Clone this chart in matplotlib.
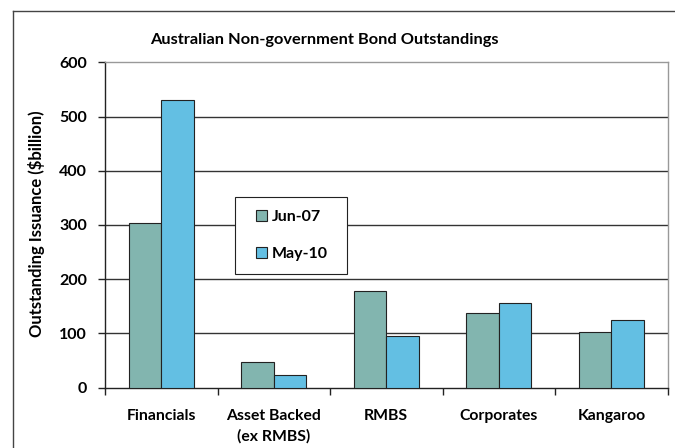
import numpy as np
import matplotlib
matplotlib.use("Agg")
import matplotlib.pyplot as plt
from matplotlib.lines import Line2D
from matplotlib.patches import Rectangle

categories = ["Financials", "Asset Backed\n(ex RMBS)", "RMBS", "Corporates", "Kangaroo"]
jun07 = [304, 47, 178, 137, 103]
may10 = [531, 23, 95, 157, 124]
series_names = ["Jun-07", "May-10"]
yticks = [0, 100, 200, 300, 400, 500, 600]

plt.rcParams["font.family"] = ["Lato", "DejaVu Sans"]

W, H = 675, 448
fig = plt.figure(figsize=(W / 100, H / 100), dpi=100)
ax = fig.add_axes([0.1556, 0.1346, 0.989 - 0.1556, 0.861 - 0.1346])

x = np.arange(len(categories))
w = 0.29
ax.bar(x - w / 2, jun07, w, color="#82B5AF", edgecolor="#222222", lw=0.8,
       label=series_names[0], zorder=3)
ax.bar(x + w / 2, may10, w, color="#63BFE3", edgecolor="#222222", lw=0.8,
       label=series_names[1], zorder=3)

ax.set_xlim(-0.5, len(categories) - 0.5)
ax.set_ylim(0, 600)
ax.hlines(yticks[1:-1], -0.5, len(categories) - 0.5, color="#333333", lw=1.0, zorder=1)

ax.set_yticks(yticks)
ax.set_yticklabels([str(t) for t in yticks], fontsize=11.5, fontweight="bold")
ax.set_xticks(x)
ax.set_xticklabels(categories, fontsize=11.3, fontweight="bold", linespacing=1.6)
ax.set_xticks(np.arange(len(categories) + 1) - 0.5, minor=True)
ax.tick_params(axis="x", which="major", length=0, pad=15)
ax.tick_params(axis="x", which="minor", length=5, width=1, color="#222222")
ax.tick_params(axis="y", length=5, width=1, color="#222222", pad=8)

for s in ["left", "bottom"]:
    ax.spines[s].set_color("#222222")
    ax.spines[s].set_linewidth(1)
for s in ["top", "right"]:
    ax.spines[s].set_color("#999999")
    ax.spines[s].set_linewidth(1)

ax.set_ylabel("Outstanding Issuance ($billion)", fontsize=12, fontweight="bold")
ax.yaxis.set_label_coords(0.067, 0.5, transform=fig.transFigure)

fig.text(0.481, 0.911, "Australian Non-government Bond Outstandings",
         ha="center", va="center", fontsize=11.8, fontweight="bold")

# legend box drawn separately so the padding matches
fig.add_artist(Rectangle((235 / W, 1 - 274 / H), 112 / W, 77 / H,
                         transform=fig.transFigure, facecolor="white",
                         edgecolor="#222222", lw=0.8, zorder=4))
leg = ax.legend(loc="upper left", bbox_to_anchor=(256 / W, 1 - 210 / H),
                bbox_transform=fig.transFigure, frameon=False,
                fontsize=11.5, labelspacing=1.4,
                handlelength=0.7, handleheight=0.7, handletextpad=0.3,
                borderpad=0, borderaxespad=0)
leg.set_zorder(5)
leg.remove()
fig.add_artist(leg)
for t in leg.get_texts():
    t.set_fontweight("bold")

# outer chart border (left and top edges)
fig.add_artist(Line2D([13 / W, 13 / W], [0, 1 - 11 / H],
                      transform=fig.transFigure, color="#444444", lw=1))
fig.add_artist(Line2D([13 / W, 1], [1 - 11 / H, 1 - 11 / H],
                      transform=fig.transFigure, color="#444444", lw=1))

fig.savefig("out.png", dpi=100)
